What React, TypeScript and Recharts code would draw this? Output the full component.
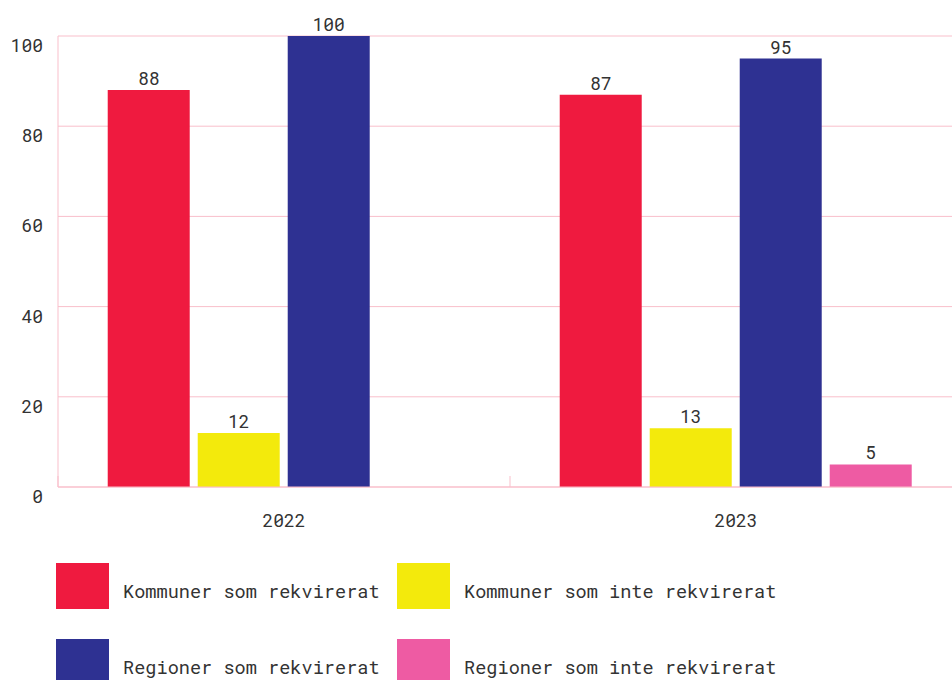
import React from "react";
import { BarChart, Bar, XAxis, YAxis, CartesianGrid, LabelList } from "recharts";

const years = ["2022", "2023"];
const kommunerRekv = [88, 87];
const kommunerInte = [12, 13];
const regionerRekv = [100, 95];
const regionerInte = [0, 5];
const yTicks = [0, 20, 40, 60, 80, 100];

const seriesNames = [
  "Kommuner som rekvirerat",
  "Kommuner som inte rekvirerat",
  "Regioner som rekvirerat",
  "Regioner som inte rekvirerat",
];
const seriesColors = ["#EF1A3F", "#F3EA0C", "#2E3192", "#EE5BA3"];
const seriesValues = [kommunerRekv, kommunerInte, regionerRekv, regionerInte];

const FONT = "'Roboto Mono', 'DejaVu Sans Mono', monospace";
const GRID = "#F9BFCB";
const TEXT = "#333333";

const data = years.map((year, i) => {
  const row: Record<string, string | number> = { year };
  seriesNames.forEach((name, s) => {
    row["s" + s] = seriesValues[s][i];
  });
  return row;
});

function XTick(props: any) {
  const { x, y, payload } = props;
  const half = payload && payload.offset ? payload.offset : 226;
  return (
    <g>
      <line x1={x - half} x2={x - half} y1={y - 11} y2={y} stroke={GRID} strokeWidth={1} />
      <text x={x} y={y + 40} textAnchor="middle" fill={TEXT} fontSize={18} fontFamily={FONT}>
        {payload.value}
      </text>
    </g>
  );
}

function YTick(props: any) {
  const { y, payload } = props;
  return (
    <text x={43} y={y + 16} textAnchor="end" fill={TEXT} fontSize={18} fontFamily={FONT}>
      {payload.value}
    </text>
  );
}

export default function App() {
  return (
    <div
      style={{
        position: "fixed",
        left: 0,
        top: 0,
        width: 952,
        height: 680,
        overflow: "hidden",
        background: "#fff",
        fontFamily: FONT,
      }}
    >
      <BarChart
        width={962}
        height={540}
        data={data}
        margin={{ top: 36, right: 0, left: 0, bottom: 0 }}
        barCategoryGap="11%"
        barGap={8}
      >
        <CartesianGrid vertical={false} stroke={GRID} />
        <XAxis
          dataKey="year"
          height={53}
          axisLine={{ stroke: GRID }}
          tickLine={false}
          tickSize={0}
          tickMargin={0}
          tick={<XTick />}
        />
        <YAxis
          width={58}
          domain={[0, 100]}
          ticks={yTicks}
          axisLine={{ stroke: GRID }}
          tickLine={false}
          tick={<YTick />}
        />
        {seriesNames.map((name, s) => (
          <Bar key={name} dataKey={"s" + s} name={name} fill={seriesColors[s]} isAnimationActive={false}>
            <LabelList
              dataKey={"s" + s}
              position="top"
              offset={5}
              fill={TEXT}
              fontSize={18}
              fontFamily={FONT}
              formatter={(v: any) => (v ? String(v) : "")}
            />
          </Bar>
        ))}
      </BarChart>
      {seriesNames.map((name, s) => {
        const col = s % 2;
        const row = Math.floor(s / 2);
        return (
          <div
            key={name}
            style={{
              position: "absolute",
              left: 56 + col * 341,
              top: 563 + row * 76,
              display: "flex",
              alignItems: "center",
            }}
          >
            <div style={{ width: 53, height: 46, background: seriesColors[s] }} />
            <span style={{ marginLeft: 14, marginTop: 10, fontSize: 18.6, color: TEXT, whiteSpace: "nowrap" }}>{name}</span>
          </div>
        );
      })}
    </div>
  );
}
